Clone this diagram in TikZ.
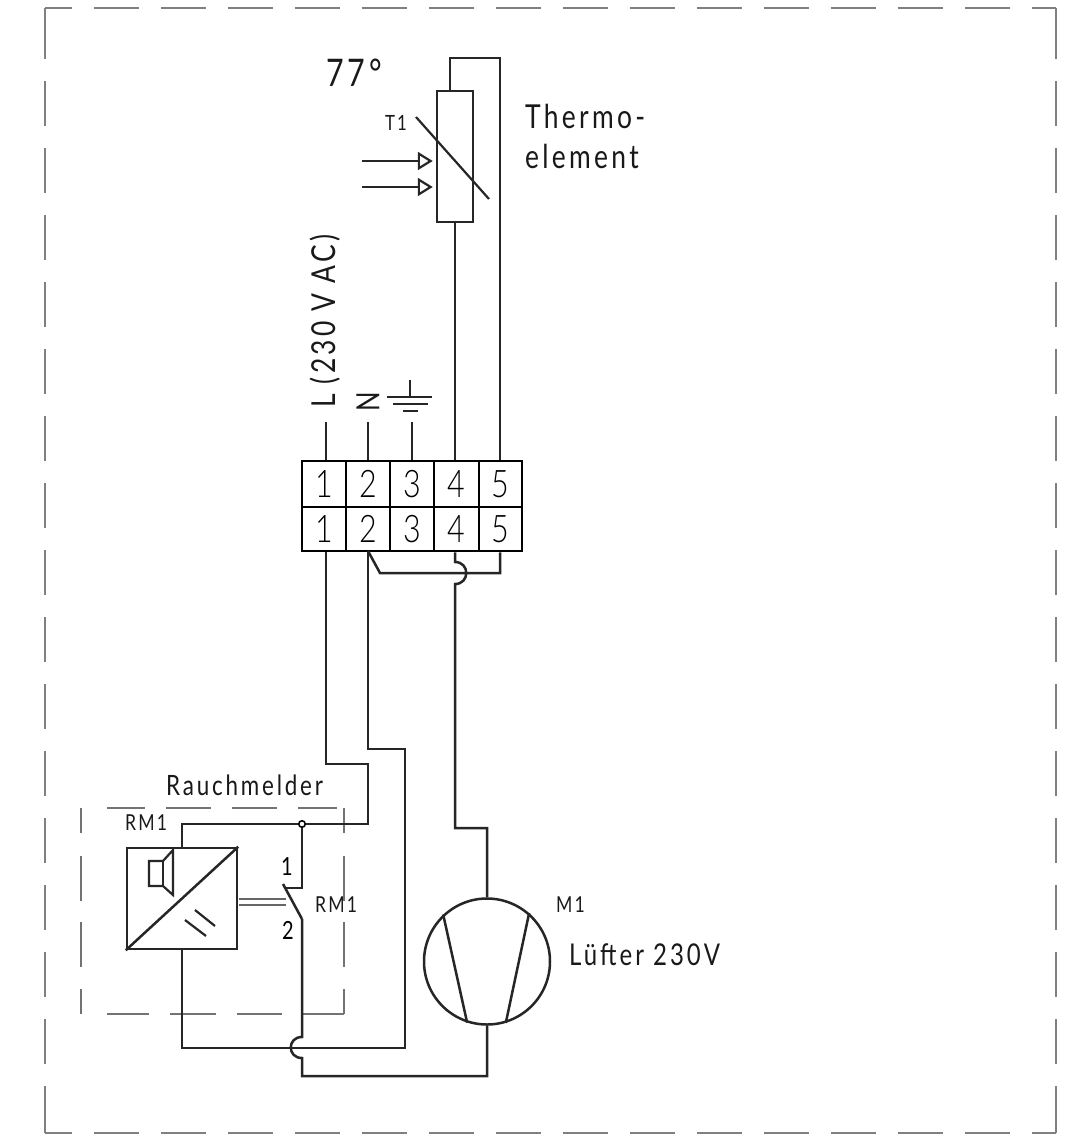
\documentclass[tikz,border=0pt]{standalone}
\usepackage{fontspec}
\usetikzlibrary{arrows.meta}
\newfontfamily\isofont[LetterSpace=10,FakeStretch=0.8]{Lato}
\newfontfamily\isodigit[FakeStretch=0.8]{Lato Light}
\newcommand{\fs}[1]{\fontsize{#1}{#1}\selectfont\isofont}
\newcommand{\fd}[1]{\fontsize{#1}{#1}\selectfont\isodigit}
\tikzset{
  wire/.style={line width=2.5pt,black!85,line join=miter},
  thinw/.style={line width=2.2pt,black!85},
  frame/.style={line width=1.9pt,black!50},
  cell/.style={draw,line width=2.6pt,inner sep=0pt,minimum height=#1},
  lab/.style={inner sep=0pt,anchor=west,text=black!90},
  part/.style={draw,line width=2.5pt,black!85,inner sep=0pt},
  arr/.style={line width=2.2pt,black!85,shorten >=3pt,-{Triangle[open,length=15pt,width=18pt,line width=2.2pt]}},
  rmdash/.style={line width=1.5pt,black!55}
}
\begin{document}
\begin{tikzpicture}[x=1pt,y=-1pt]
\useasboundingbox (0,0) rectangle (1086,1144);
\fill[white] (0,0) rectangle (1086,1144);
% outer frame
\coordinate (fa) at (45,8); \coordinate (fb) at (1056,8);
\coordinate (fc) at (1056,1133); \coordinate (fd) at (45,1133);
\draw[frame,dash pattern=on 45pt off 22pt,dash phase=18.5pt] (fa) -- (fb);
\draw[frame,dash pattern=on 45pt off 22pt,dash phase=18.5pt] (fd) -- (fc);
\draw[frame,dash pattern=on 45pt off 22pt,dash phase=-6pt] (fa) -- (fd);
\draw[frame,dash pattern=on 45pt off 22pt,dash phase=-6pt] (fb) -- (fc);
\draw[frame] (45,8) -- (45,15) (1056,8) -- (1056,15) (45,1086) -- (45,1133) (1056,1086) -- (1056,1133);
% smoke detector frame
\coordinate (da) at (81,808); \coordinate (db) at (344,808);
\coordinate (dc) at (344,1014); \coordinate (dd) at (81,1014);
\coordinate (dta) at (107,808); \coordinate (dtb) at (337,808);
\draw[rmdash,dash pattern=on 45pt off 21pt,dash phase=7pt] (dta) -- (dtb);
\draw[rmdash,dash pattern=on 25pt off 23pt on 45pt off 21pt on 45pt off 22pt on 45pt off 22pt] (da) -- (dd);
\draw[rmdash,dash pattern=on 25pt off 23pt on 45pt off 21pt on 45pt off 22pt on 45pt off 22pt] (db) -- (dc);
\coordinate (dba) at (107,1014);
\draw[rmdash,dash pattern=on 42pt off 21pt on 46pt off 21pt on 45pt off 21pt on 41pt off 100pt] (dba) -- (dc);
% terminals
\node[cell=46pt,minimum width=44pt] (t1u) at (324,484) {\fd{38}1};
\node[cell=46pt,minimum width=44pt] (t2u) at (368,484) {\fd{38}2};
\node[cell=46pt,minimum width=44pt] (t3u) at (412,484) {\fd{38}3};
\node[cell=46pt,minimum width=45pt] (t4u) at (456.5,484) {\fd{38}4};
\node[cell=46pt,minimum width=43pt] (t5u) at (500.5,484) {\fd{38}5};
\node[cell=44pt,minimum width=44pt] (t1l) at (324,529) {\fd{38}1};
\node[cell=44pt,minimum width=44pt] (t2l) at (368,529) {\fd{38}2};
\node[cell=44pt,minimum width=44pt] (t3l) at (412,529) {\fd{38}3};
\node[cell=44pt,minimum width=45pt] (t4l) at (456.5,529) {\fd{38}4};
\node[cell=44pt,minimum width=43pt] (t5l) at (500.5,529) {\fd{38}5};
% parts
\node[part,minimum width=36pt,minimum height=131pt] (th) at (455,156.5) {};
\node[part,minimum width=110pt,minimum height=101pt] (rm) at (182,898.5) {};
\node[part,circle,minimum size=126pt] (motor) at (487,961.5) {};
\node[draw,circle,line width=1.6pt,fill=white,inner sep=0pt,minimum size=6.5pt] (junc) at (302,824) {};
% labels
\node[lab] (t77) at (326,73) {\fs{38}77°};
\node[lab] (tt1) at (385,123) {\fs{21}T1};
\node[lab] (tth1) at (525,116) {\fs{33}Thermo-};
\node[lab] (tth2) at (525,156) {\fs{33}element};
\node[inner sep=0pt,rotate=90,anchor=west,text=black!90] (tl) at (325,408) {\fs{33}L (230 V AC)};
\node[inner sep=0pt,rotate=90,text=black!90] (tn) at (368,402) {\fs{32}N};
\node[lab] (trm) at (166,785) {\fs{28}Rauchmelder};
\node[lab] (trm1) at (125,823) {\fs{22}RM1};
\node[lab] (trm2) at (315,905) {\fs{22}RM1};
\node[inner sep=0pt] (ts1) at (287,867) {\fs{25}1};
\node[inner sep=0pt] (ts2) at (288,930) {\fs{25}2};
\node[lab] (tm1) at (556,905) {\fs{22}M1};
\node[lab] (tlf) at (569,955) {\fs{30}Lüfter 230V};
% upper wiring
\coordinate (w1) at (326,422); \coordinate (w2) at (368,422); \coordinate (w3) at (412,422);
\draw[wire] (w1) -- (w1 |- t1u.north);
\draw[wire] (w2) -- (w2 |- t2u.north);
\draw[wire] (w3) -- (w3 |- t3u.north);
\coordinate (toptl) at (450,58); \coordinate (toptr) at (500,58);
\draw[wire] (toptl |- th.north) -- (toptl) -- (toptr) -- (toptr |- t5u.north);
\draw[wire] (th.south) -- (th.south |- t4u.north);
% thermistor
\coordinate (sa) at (416,117); \coordinate (sb) at (489,199);
\draw[thinw] (sa) -- (sb);
\coordinate (a1) at (362,161); \coordinate (a2) at (362,187);
\draw[arr] (a1) -- (a1 -| th.west);
\draw[arr] (a2) -- (a2 -| th.west);
% earth
\coordinate (ea) at (410,380); \coordinate (eb) at (410,397);
\draw[thinw] (ea) -- (eb);
\coordinate (e1l) at (387,397); \coordinate (e1r) at (432,397);
\coordinate (e2l) at (393,404); \coordinate (e2r) at (428,404);
\coordinate (e3l) at (403,411); \coordinate (e3r) at (418,411);
\draw[thinw] (e1l) -- (e1r);
\draw[thinw] (e2l) -- (e2r);
\draw[thinw] (e3l) -- (e3r);
% lower block wiring
\coordinate (n2) at (368,551); \coordinate (b1) at (380,573); \coordinate (b2) at (500,573);
\draw[wire] (n2) -- (b1) -- (b2) -- (b2 |- t5l.south);
\coordinate (p4a) at (455,562); \coordinate (p4b) at (455,584); \coordinate (p4c) at (455,828); \coordinate (p4d) at (487,828);
\draw[wire] (p4a |- t4l.south) -- (p4a) .. controls (470,562) and (470,584) .. (p4b) -- (p4c) -- (p4d) -- (motor.north);
\coordinate (l1) at (326,764); \coordinate (l2) at (368,764); \coordinate (l3) at (368,824); \coordinate (l4) at (182,824);
\draw[wire] (l1 |- t1l.south) -- (l1) -- (l2) -- (l3) -- (junc) -- (l4) -- (l4 |- rm.north);
\coordinate (r1) at (368,749); \coordinate (r2) at (405,749); \coordinate (r3) at (405,1048); \coordinate (r4) at (182,1048);
\draw[wire] (r1 |- t2l.south) -- (r1) -- (r2) -- (r3) -- (r4) -- (r4 |- rm.south);
% switch
\coordinate (s1) at (302,888); \coordinate (s2) at (285,888); \coordinate (s3) at (283,884); \coordinate (s4) at (302,919);
\draw[wire] (junc) -- (s1) -- (s2);
\draw[wire] (s3) -- (s4);
\coordinate (s5) at (302,1037); \coordinate (s6) at (302,1058); \coordinate (s7) at (302,1076); \coordinate (s8) at (487,1076);
\draw[wire] (s4) -- (s5) .. controls (287,1037) and (287,1058) .. (s6) -- (s7) -- (s8) -- (motor.south);
\coordinate (c1) at (239,899); \coordinate (c2) at (286,899); \coordinate (c3) at (239,905); \coordinate (c4) at (286,905);
\draw[thinw,line width=1.6pt,black!60] (c1) -- (c2);
\draw[thinw,line width=1.6pt,black!60] (c3) -- (c4);
% detector symbol
\draw[wire] (rm.south west) -- (rm.north east);
\coordinate (k1) at (149,861); \coordinate (k2) at (163,861); \coordinate (k3) at (173,850);
\coordinate (k4) at (173,895); \coordinate (k5) at (163,886); \coordinate (k6) at (149,886);
\draw[thinw] (k1) -- (k2) -- (k3) -- (k4) -- (k5) -- (k6) -- cycle;
\draw[thinw] (k2) -- (k5);
\coordinate (g1) at (195,910); \coordinate (g2) at (215,926); \coordinate (g3) at (185,920); \coordinate (g4) at (206,936);
\draw[thinw] (g1) -- (g2);
\draw[thinw] (g3) -- (g4);
% motor
\draw[wire] (motor.133) -- (motor.252);
\draw[wire] (motor.49) -- (motor.287);
\end{tikzpicture}
\end{document}
